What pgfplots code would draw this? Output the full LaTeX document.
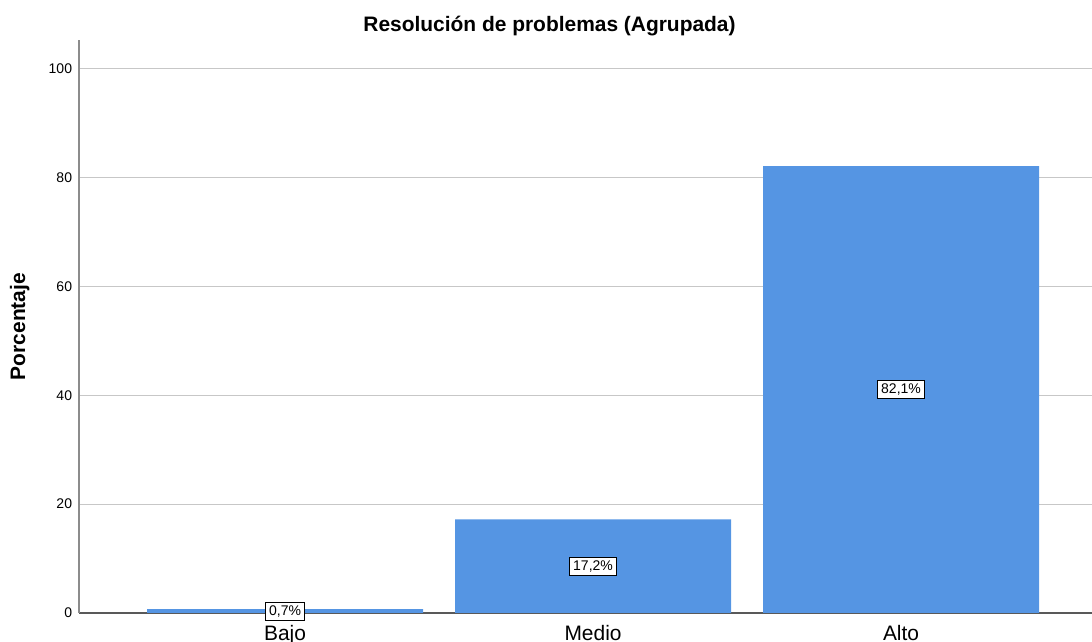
\documentclass[border=0pt]{standalone}
\usepackage{fontspec}
\setmainfont{Liberation Sans}
\usepackage{pgfplots}
\pgfplotsset{compat=1.18}
\definecolor{barblue}{HTML}{5595E3}
\begin{document}
\begin{tikzpicture}
\begin{axis}[
    name=ax,
    scale only axis,
    width=759.75pt, height=429.75pt,
    xmin=-0.669, xmax=2.62,
    ymin=0, ymax=105.3,
    axis x line*=bottom, axis y line*=left,
    x axis line style={-, draw=black!65, line width=1pt},
    y axis line style={-, draw=black!45, line width=1pt},
    xtick={0,1,2}, xticklabels={Bajo,Medio,Alto},
    ytick={0,20,...,100},
    ymajorgrids, grid style={draw=black!22, line width=0.9pt},
    major tick length=0pt,
    /pgf/number format/assume math mode=true,
    yticklabel style={font=\fontsize{10.5}{12}\selectfont, inner sep=0pt, xshift=-5pt},
    xticklabel style={font=\fontsize{15.7}{18}\selectfont, inner sep=0pt, anchor=north, yshift=-9pt},
]
    % porcentajes
    \addplot[ybar, bar width=207pt, fill=barblue, draw=none] coordinates {(0,0.7) (1,17.2) (2,82.1)};
    % etiquetas a media altura
    \addplot[draw=none, mark=none, point meta=explicit symbolic,
        nodes near coords,
        every node near coord/.append style={anchor=center, fill=white, draw=black, line width=0.6pt,
            inner sep=2.5pt, font=\fontsize{10.5}{12}\selectfont}]
        coordinates {(0,0.35)[0,7\%] (1,8.6)[17,2\%] (2,41.05)[82,1\%]};
\end{axis}
\node[anchor=base, font=\bfseries\fontsize{15.7}{18}\selectfont] at ([xshift=-27pt, yshift=6pt]ax.north) {Resolución de problemas (Agrupada)};
\node[rotate=90, anchor=base, font=\bfseries\fontsize{15.7}{18}\selectfont] at ([xshift=-40.5pt]ax.west) {Porcentaje};
\pgfresetboundingbox
\path ([xshift=-59.25pt, yshift=-21.75pt]ax.south west) rectangle ([yshift=30pt]ax.north east);
\end{tikzpicture}
\end{document}
